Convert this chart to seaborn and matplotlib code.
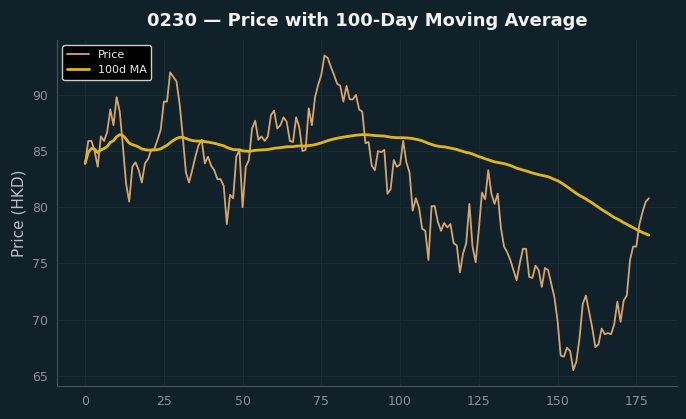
import numpy as np
import pandas as pd
import matplotlib
matplotlib.use("Agg")
import matplotlib.pyplot as plt
import seaborn as sns

ticker = "0230"
window = 100

price = [
    83.9, 85.9, 85.9, 85.0, 83.6, 86.3, 85.9, 86.7, 88.7, 87.3,
    89.8, 88.5, 85.4, 82.1, 80.5, 83.6, 84.0, 83.3, 82.2, 83.9,
    84.3, 85.1, 85.2, 86.0, 86.9, 89.4, 89.4, 92.0, 91.6, 91.2,
    89.2, 86.3, 83.1, 82.2, 83.3, 84.5, 85.5, 86.0, 83.9, 84.5,
    83.7, 83.3, 82.5, 82.5, 81.9, 78.5, 81.1, 80.8, 84.5, 85.1,
    80.0, 83.6, 84.2, 87.0, 87.7, 86.0, 86.3, 85.9, 86.3, 88.2,
    88.6, 87.0, 87.3, 88.0, 87.6, 85.9, 85.8, 88.0, 87.1, 85.0,
    85.1, 88.8, 87.3, 89.8, 90.9, 91.8, 93.5, 93.3, 92.5, 91.8,
    91.0, 90.8, 89.4, 90.8, 89.6, 89.6, 90.0, 88.7, 88.5, 85.7,
    85.8, 83.7, 83.3, 85.0, 84.9, 85.1, 81.2, 81.6, 84.2, 83.6,
    83.8, 85.9, 84.0, 83.1, 79.7, 80.8, 80.0, 78.1, 77.9, 75.3,
    80.1, 80.1, 78.7, 77.9, 78.6, 78.2, 78.5, 76.8, 76.6, 74.2,
    75.9, 76.8, 80.3, 76.5, 75.1, 78.0, 81.3, 80.7, 83.3, 81.2,
    80.3, 81.2, 78.2, 76.5, 76.0, 75.3, 74.4, 73.5, 75.0, 76.3,
    76.3, 73.8, 73.7, 74.8, 74.4, 72.9, 74.6, 74.4, 73.2, 72.0,
    69.9, 66.8, 66.7, 67.5, 67.2, 65.5, 66.3, 68.4, 71.4, 72.15,
    70.7, 69.3, 67.55, 67.8, 69.2, 68.7, 68.8, 68.7, 69.6, 71.6,
    69.8, 71.7, 72.15, 75.3, 76.5, 76.5, 78.5, 79.6, 80.5, 80.8,
]

df = pd.DataFrame({"day": np.arange(len(price)), "price": price})
df["ma"] = df["price"].rolling(window, min_periods=1).mean()

bg = "#10212a"
sns.set_style("dark")
plt.rcParams.update({
    "figure.facecolor": bg,
    "axes.facecolor": bg,
    "axes.edgecolor": "#4a5358",
    "grid.color": "#1a2b33",
    "text.color": "#e8e8e8",
    "xtick.color": "#8a9297",
    "ytick.color": "#8a9297",
    "axes.labelcolor": "#b8bec2",
})

fig, ax = plt.subplots(figsize=(6.86, 4.19), dpi=100)
fig.subplots_adjust(left=0.083, right=0.987, top=0.905, bottom=0.079)

sns.lineplot(data=df, x="day", y="price", ax=ax, color="#d7a46e",
             linewidth=1.3, label="Price")
sns.lineplot(data=df, x="day", y="ma", ax=ax, color="#e0b41c",
             linewidth=2, label=f"{window}d MA")

ax.grid(True, color="#1a2b33", linewidth=0.8)
ax.tick_params(axis="both", colors="#8a9297", labelsize=9, length=3)
for s in ["top", "right"]:
    ax.spines[s].set_visible(False)
ax.set_xlabel("")
ax.set_ylabel("Price (HKD)", fontsize=11)
ax.set_title(f"{ticker} — Price with 100-Day Moving Average",
             fontsize=13, fontweight="bold", color="#f2f2f2", pad=10)

leg = ax.legend(loc="upper left", fontsize=8, facecolor="black",
                edgecolor="#cccccc", framealpha=1)
for t in leg.get_texts():
    t.set_color("#e8e8e8")

fig.savefig("out.png", dpi=100, facecolor=bg)
